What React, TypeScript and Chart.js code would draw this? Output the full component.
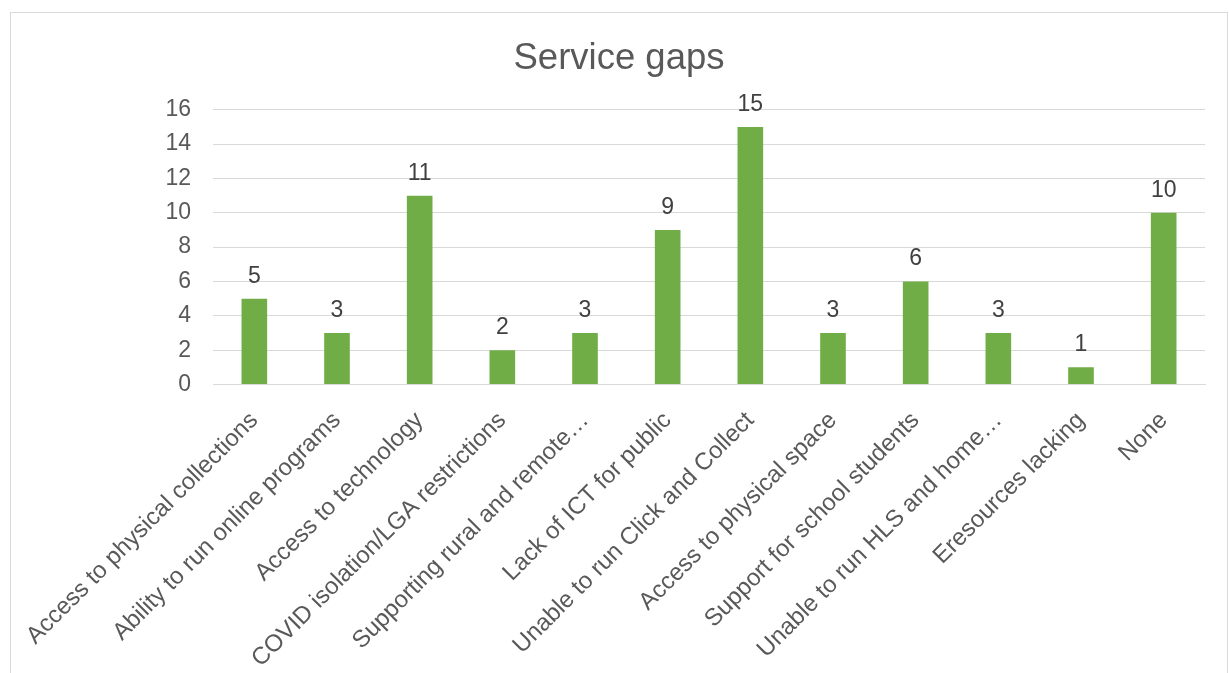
import React, { useEffect, useRef } from "react";
import { Chart, registerables } from "chart.js";

Chart.register(...registerables);

const categories: string[] = [
  "Access to physical collections",
  "Ability to run online programs",
  "Access to technology",
  "COVID isolation/LGA restrictions",
  "Supporting rural and remote…",
  "Lack of ICT for public",
  "Unable to run Click and Collect",
  "Access to physical space",
  "Support for school students",
  "Unable to run HLS and home…",
  "Eresources lacking",
  "None",
];

const values: number[] = [5, 3, 11, 2, 3, 9, 15, 3, 6, 3, 1, 10];

const yMin = 0;
const yMax = 16;
const yStep = 2;

const chartTitle = "Service gaps";

const FONT = "'Liberation Sans', Arial, sans-serif";

const dataLabelPlugin = {
  id: "dataLabels",
  afterDatasetsDraw(chart: any) {
    const ctx = chart.ctx;
    const meta = chart.getDatasetMeta(0);
    ctx.save();
    ctx.font = `23px ${FONT}`;
    ctx.fillStyle = "#404040";
    ctx.textAlign = "center";
    ctx.textBaseline = "alphabetic";
    meta.data.forEach((bar: any, i: number) => {
      ctx.fillText(String(values[i]), bar.x, bar.y - 16);
    });
    ctx.restore();
  },
};

export default function App() {
  const canvasRef = useRef<HTMLCanvasElement | null>(null);

  useEffect(() => {
    if (!canvasRef.current) return;
    Chart.defaults.font.family = FONT;
    const chart = new Chart(canvasRef.current, {
      type: "bar",
      data: {
        labels: categories,
        datasets: [
          {
            data: values,
            backgroundColor: "#70AD47",
            borderWidth: 0,
            categoryPercentage: 1,
            barPercentage: 0.31,
          },
        ],
      },
      options: {
        animation: false,
        responsive: false,
        maintainAspectRatio: false,
        layout: { padding: { left: 22, right: 22, top: 0, bottom: 0 } },
        plugins: {
          legend: { display: false },
          tooltip: { enabled: false },
          title: {
            display: true,
            text: chartTitle,
            color: "#595959",
            font: { size: 36.5, weight: "normal", family: FONT },
            padding: { top: 24, bottom: 29 },
          },
        },
        scales: {
          x: {
            grid: { display: false, drawTicks: false },
            border: { display: true, color: "#d9d9d9", width: 1 },
            ticks: {
              autoSkip: false,
              minRotation: 45,
              maxRotation: 45,
              padding: 22,
              color: "#595959",
              font: { size: 24, family: FONT },
            },
            afterFit: (s: any) => {
              s.height = 288.5;
              s.paddingLeft = 0;
              s.paddingRight = 0;
            },
          },
          y: {
            min: yMin,
            max: yMax,
            ticks: {
              stepSize: yStep,
              padding: 22,
              color: "#595959",
              font: { size: 23, family: FONT },
            },
            grid: { color: "#d9d9d9", lineWidth: 1, drawTicks: false },
            border: { display: false },
            afterFit: (s: any) => {
              s.width = 180;
            },
          },
        },
      },
      plugins: [dataLabelPlugin],
    });
    return () => chart.destroy();
  }, []);

  return (
    <div
      style={{
        position: "absolute",
        left: 10,
        top: 12,
        width: 1218,
        height: 661,
        boxSizing: "border-box",
        border: "1px solid #d9d9d9",
        borderBottom: "none",
        background: "#fff",
      }}
    >
      <canvas ref={canvasRef} width={1216} height={660} style={{ display: "block" }} />
    </div>
  );
}
